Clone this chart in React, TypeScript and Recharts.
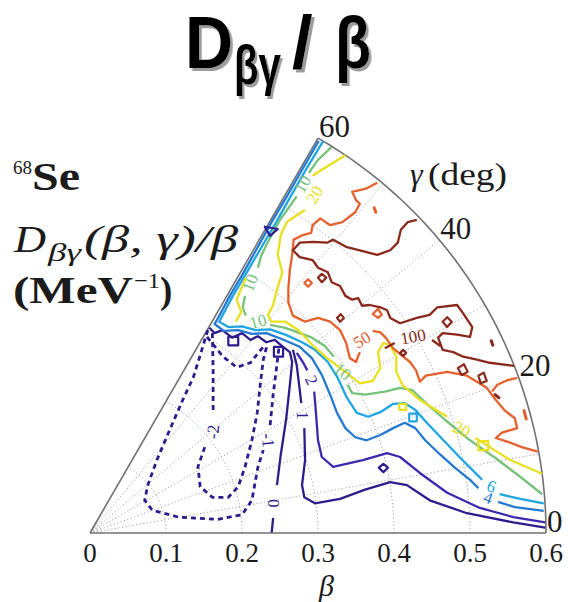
import React from "react";
import { ComposedChart, Line, Scatter, XAxis, YAxis } from "recharts";

type Pt = [number, number];
type Seg = Pt[];

// axes
const betaTicks = [0, 0.1, 0.2, 0.3, 0.4, 0.5, 0.6];
const gammaTicks = [0, 20, 40, 60];
const gridBetas = [0.1, 0.2, 0.3, 0.4, 0.5];
const gridGammas = [10, 20, 30, 40, 50];
const hubBetas = [0.005, 0.01, 0.015];

// contour pieces in the (β cosγ, β sinγ) plane; a piece ends where the level label sits
const levelNeg2: Seg[] = [
  [[0.161, 0.263], [0.162, 0.214], [0.162, 0.162]],
  [[0.151, 0.113], [0.142, 0.087], [0.145, 0.061], [0.161, 0.047], [0.182, 0.047], [0.195, 0.061], [0.204, 0.087], [0.213, 0.122], [0.22, 0.158], [0.224, 0.195], [0.228, 0.228], [0.233, 0.247]],
  [[0.154, 0.258], [0.175, 0.232], [0.193, 0.218], [0.211, 0.224], [0.228, 0.245]],
];

const levelNeg1: Seg[] = [
  [[0.155, 0.267], [0.145, 0.234], [0.136, 0.205], [0.122, 0.175], [0.105, 0.136], [0.088, 0.096], [0.076, 0.063], [0.072, 0.043], [0.082, 0.03], [0.116, 0.021], [0.168, 0.018], [0.2, 0.024], [0.213, 0.043], [0.221, 0.087], [0.228, 0.109]],
  [[0.237, 0.142], [0.241, 0.182], [0.245, 0.214], [0.249, 0.247]],
];

const level0: Seg[] = [
  [[0.157, 0.27], [0.164, 0.263], [0.174, 0.267], [0.187, 0.257], [0.2, 0.263], [0.211, 0.254], [0.221, 0.259], [0.232, 0.251], [0.243, 0.254], [0.254, 0.245], [0.263, 0.238], [0.266, 0.225], [0.263, 0.195], [0.258, 0.149], [0.251, 0.103], [0.246, 0.063]],
  [[0.241, 0.02], [0.239, 0]],
];

const level1: Seg[] = [
  [[0.267, 0.241], [0.272, 0.221], [0.276, 0.188], [0.278, 0.171]],
  [[0.282, 0.138], [0.283, 0.096], [0.279, 0.063], [0.282, 0.047], [0.296, 0.039], [0.329, 0.045], [0.362, 0.057], [0.395, 0.067], [0.417, 0.063], [0.447, 0.043], [0.496, 0.026], [0.557, 0.014], [0.599, 0.007]],
];

const level2: Seg[] = [
  [[0.272, 0.237], [0.28, 0.225], [0.286, 0.214]],
  [[0.295, 0.186], [0.297, 0.162], [0.3, 0.122], [0.305, 0.1], [0.32, 0.087], [0.359, 0.096], [0.391, 0.105], [0.408, 0.1], [0.434, 0.079], [0.47, 0.053], [0.513, 0.033], [0.557, 0.021], [0.599, 0.014]],
];

const level4: Seg[] = [
  [[0.301, 0.516], [0.279, 0.478], [0.259, 0.443], [0.239, 0.409], [0.22, 0.375], [0.2, 0.339], [0.184, 0.312], [0.174, 0.293], [0.164, 0.275], [0.176, 0.266], [0.195, 0.267], [0.213, 0.262], [0.232, 0.263], [0.253, 0.255], [0.276, 0.245], [0.292, 0.23], [0.305, 0.208], [0.316, 0.182], [0.325, 0.158], [0.336, 0.138], [0.349, 0.126], [0.364, 0.122], [0.382, 0.129], [0.399, 0.138], [0.414, 0.145], [0.428, 0.138], [0.441, 0.122], [0.461, 0.103], [0.48, 0.086], [0.5, 0.07], [0.511, 0.059]],
  [[0.537, 0.041], [0.559, 0.034], [0.597, 0.029]],
];

const level6: Seg[] = [
  [[0.307, 0.516], [0.284, 0.478], [0.264, 0.443], [0.245, 0.409], [0.225, 0.375], [0.204, 0.339], [0.188, 0.312], [0.178, 0.293], [0.17, 0.278], [0.182, 0.271], [0.2, 0.272], [0.218, 0.267], [0.237, 0.268], [0.257, 0.261], [0.279, 0.251], [0.296, 0.241], [0.313, 0.225], [0.326, 0.204], [0.338, 0.178], [0.351, 0.158], [0.366, 0.153], [0.382, 0.159], [0.399, 0.17], [0.414, 0.171], [0.428, 0.162], [0.445, 0.143], [0.467, 0.12], [0.487, 0.099], [0.504, 0.082], [0.516, 0.07]],
  [[0.539, 0.051], [0.566, 0.045], [0.597, 0.039]],
];

const level10: Seg[] = [
  [[0.318, 0.508], [0.3, 0.491], [0.288, 0.474]],
  [[0.272, 0.443], [0.262, 0.429], [0.25, 0.412], [0.239, 0.392], [0.232, 0.379], [0.225, 0.364], [0.221, 0.349]],
  [[0.204, 0.312], [0.201, 0.297], [0.205, 0.286]],
  [[0.237, 0.274], [0.257, 0.27], [0.276, 0.263], [0.292, 0.257], [0.309, 0.246], [0.321, 0.232]],
  [[0.339, 0.195], [0.345, 0.184], [0.362, 0.182], [0.388, 0.186], [0.408, 0.191], [0.424, 0.188], [0.441, 0.172], [0.467, 0.149], [0.5, 0.122], [0.533, 0.099], [0.566, 0.074], [0.595, 0.051]],
];

const level20: Seg[] = [
  [[0.336, 0.497], [0.305, 0.478], [0.293, 0.47]],
  [[0.283, 0.425], [0.272, 0.418], [0.259, 0.409], [0.251, 0.392], [0.247, 0.366], [0.253, 0.343], [0.246, 0.32], [0.241, 0.3], [0.234, 0.287], [0.239, 0.278], [0.257, 0.278], [0.274, 0.267], [0.293, 0.247], [0.312, 0.23], [0.336, 0.212], [0.355, 0.197], [0.372, 0.2], [0.382, 0.217], [0.379, 0.238], [0.386, 0.25], [0.395, 0.247], [0.403, 0.232], [0.403, 0.212], [0.411, 0.195], [0.434, 0.175], [0.47, 0.153]],
  [[0.507, 0.125], [0.526, 0.113], [0.553, 0.096], [0.595, 0.078]],
  [[0.205, 0.336], [0.193, 0.307], [0.199, 0.291], [0.192, 0.278]],
];

const level50: Seg[] = [
  [[0.378, 0.461], [0.363, 0.453], [0.345, 0.449], [0.35, 0.438], [0.355, 0.433], [0.349, 0.422], [0.332, 0.409], [0.316, 0.405], [0.303, 0.414], [0.293, 0.405], [0.291, 0.395], [0.28, 0.392], [0.268, 0.386], [0.266, 0.366], [0.263, 0.346], [0.261, 0.322], [0.261, 0.303], [0.267, 0.286], [0.283, 0.278], [0.3, 0.283], [0.316, 0.278], [0.329, 0.267], [0.337, 0.25], [0.342, 0.23], [0.35, 0.225], [0.355, 0.238]],
  [[0.372, 0.266], [0.382, 0.264], [0.389, 0.257], [0.399, 0.243], [0.411, 0.233], [0.421, 0.225], [0.429, 0.214], [0.434, 0.199], [0.442, 0.207], [0.47, 0.212], [0.496, 0.207], [0.522, 0.191], [0.534, 0.175], [0.546, 0.161], [0.559, 0.151], [0.562, 0.138], [0.542, 0.132], [0.534, 0.125], [0.55, 0.12], [0.568, 0.113], [0.589, 0.107]],
  [[0.562, 0.204], [0.549, 0.201], [0.536, 0.195], [0.529, 0.186]],
];

const level100: Seg[] = [
  [[0.43, 0.412], [0.418, 0.409], [0.409, 0.399], [0.405, 0.382], [0.395, 0.372], [0.378, 0.366], [0.355, 0.372], [0.338, 0.376], [0.32, 0.386], [0.312, 0.382], [0.293, 0.383], [0.276, 0.382], [0.267, 0.372], [0.276, 0.363], [0.293, 0.359], [0.3, 0.349], [0.313, 0.343], [0.318, 0.33], [0.329, 0.325], [0.336, 0.312], [0.345, 0.307], [0.353, 0.309], [0.358, 0.299], [0.368, 0.3], [0.382, 0.297], [0.391, 0.293], [0.395, 0.283], [0.408, 0.276], [0.43, 0.283], [0.447, 0.287], [0.457, 0.297], [0.483, 0.3], [0.491, 0.289], [0.503, 0.271], [0.5, 0.258], [0.483, 0.261], [0.464, 0.263], [0.458, 0.257], [0.464, 0.241], [0.478, 0.238], [0.491, 0.232], [0.509, 0.228], [0.526, 0.224], [0.558, 0.22]],
  [[0.388, 0.243], [0.401, 0.25]],
  [[0.45, 0.254], [0.461, 0.246]],
];

// small closed contours
const islands1: Seg[] = [
  [[0.38, 0.086], [0.386, 0.091], [0.392, 0.086], [0.386, 0.08]],
  [[0.23, 0.403], [0.247, 0.4], [0.237, 0.391]],
  [[0.182, 0.258], [0.195, 0.258], [0.195, 0.247], [0.182, 0.247]],
  [[0.242, 0.245], [0.254, 0.245], [0.254, 0.232], [0.242, 0.232]],
];
const islands6: Seg[] = [[[0.42, 0.157], [0.43, 0.157], [0.43, 0.147], [0.42, 0.147]]];
const islands20: Seg[] = [
  [[0.511, 0.121], [0.524, 0.121], [0.524, 0.109], [0.511, 0.109]],
  [[0.407, 0.17], [0.416, 0.17], [0.416, 0.162], [0.407, 0.162]],
];
const islands50: Seg[] = [
  [[0.282, 0.329], [0.287, 0.334], [0.292, 0.329], [0.287, 0.324]],
  [[0.372, 0.288], [0.379, 0.295], [0.384, 0.287], [0.379, 0.283]],
  [[0.571, 0.161], [0.574, 0.15]],
  [[0.374, 0.428], [0.376, 0.422]],
];
const islands100: Seg[] = [
  [[0.464, 0.278], [0.47, 0.284], [0.476, 0.278], [0.47, 0.271]],
  [[0.408, 0.237], [0.412, 0.241], [0.416, 0.237], [0.412, 0.233]],
  [[0.484, 0.217], [0.492, 0.222], [0.497, 0.212], [0.489, 0.208]],
  [[0.511, 0.207], [0.518, 0.211], [0.522, 0.2], [0.514, 0.197]],
  [[0.533, 0.182], [0.538, 0.178]],
  [[0.528, 0.253], [0.53, 0.247]],
  [[0.3, 0.336], [0.305, 0.341], [0.311, 0.336], [0.305, 0.33]],
  [[0.325, 0.283], [0.33, 0.288], [0.334, 0.283], [0.329, 0.278]],
];

const levelLabels = [
  { text: "-2", level: -2, at: [0.162, 0.133], angle: -85 },
  { text: "-1", level: -1, at: [0.234, 0.122], angle: 85 },
  { text: "0", level: 0, at: [0.242, 0.039], angle: 90 },
  { text: "1", level: 1, at: [0.279, 0.155], angle: 90 },
  { text: "2", level: 2, at: [0.291, 0.201], angle: 65 },
  { text: "4", level: 4, at: [0.524, 0.046], angle: 20 },
  { text: "6", level: 6, at: [0.528, 0.061], angle: 20 },
  { text: "10", level: 10, at: [0.28, 0.459], angle: -60 },
  { text: "10", level: 10, at: [0.211, 0.329], angle: -70 },
  { text: "10", level: 10, at: [0.221, 0.278], angle: -15 },
  { text: "10", level: 10, at: [0.332, 0.212], angle: 40 },
  { text: "20", level: 20, at: [0.296, 0.445], angle: -60 },
  { text: "20", level: 20, at: [0.489, 0.136], angle: 25 },
  { text: "50", level: 50, at: [0.358, 0.254], angle: -30 },
  { text: "100", level: 100, at: [0.425, 0.258], angle: -10 },
];

const levelColor: Record<number, string> = {
  [-2]: "#2e1c8e",
  [-1]: "#2e1c8e",
  0: "#2e1c8e",
  1: "#2e1c8e",
  2: "#3a2ab0",
  4: "#2479d2",
  6: "#1fa5e2",
  10: "#76c27a",
  20: "#e8df1e",
  50: "#e5602d",
  100: "#8a291b",
};

const contours = [
  { level: -2, segs: levelNeg2, dashed: true },
  { level: -1, segs: levelNeg1, dashed: true },
  { level: 0, segs: level0 },
  { level: 1, segs: level1 },
  { level: 2, segs: level2 },
  { level: 4, segs: level4 },
  { level: 6, segs: level6 },
  { level: 10, segs: level10 },
  { level: 20, segs: level20 },
  { level: 50, segs: level50 },
  { level: 100, segs: level100 },
];

const islands = [
  { level: 1, segs: islands1 },
  { level: 6, segs: islands6 },
  { level: 20, segs: islands20 },
  { level: 50, segs: islands50 },
  { level: 100, segs: islands100 },
];

const deg = Math.PI / 180;
const polar = (b: number, g: number) => ({ x: b * Math.cos(g * deg), y: b * Math.sin(g * deg) });
const arcRows = (b: number) => Array.from({ length: 61 }, (_, i) => polar(b, i));
const rows = (seg: Seg, closed = false) => {
  const r = seg.map(([x, y]) => ({ x, y }));
  return closed && seg.length > 2 ? [...r, r[0]] : r;
};

const SERIF = "'Liberation Serif', 'Times New Roman', serif";
const SANS = "'Liberation Sans', Arial, sans-serif";
const INK = "#1b1b1b";
const FRAME = "#707070";
const GRID = "#a3a3a3";

const labelRows = levelLabels.map((l) => ({ x: l.at[0], y: l.at[1], text: l.text, angle: l.angle, color: levelColor[l.level] }));
const gammaRows = gammaTicks.map((g) => ({ ...polar(0.6, g), text: String(g) }));

function LevelLabel(props: any) {
  const { cx, cy, payload } = props;
  if (cx == null || cy == null) return null;
  return (
    <text
      x={cx}
      y={cy}
      fill={payload.color}
      fontFamily={SERIF}
      fontSize={17}
      textAnchor="middle"
      dominantBaseline="central"
      transform={`rotate(${payload.angle} ${cx} ${cy})`}
    >
      {payload.text}
    </text>
  );
}

function GammaLabel(props: any) {
  const { cx, cy, payload } = props;
  if (cx == null || cy == null) return null;
  return (
    <text x={cx + 1} y={cy - 1} fill={INK} fontFamily={SERIF} fontSize={31}>
      {payload.text}
    </text>
  );
}

// condensed bold title glyphs with a flat grey drop shadow
function TitlePiece({ x, y, size, sx, children }: any) {
  return (
    <text
      transform={`translate(${x} ${y}) scale(${sx} 1)`}
      fill="#000"
      fontFamily={SANS}
      fontWeight={700}
      fontSize={size}
      filter="url(#titleShadow)"
    >
      {children}
    </text>
  );
}

const lineBase = { dataKey: "y", type: "linear" as const, dot: false, activeDot: false, isAnimationActive: false, legendType: "none" as const };

export default function App() {
  return (
    <div style={{ position: "absolute", left: 0, top: 0, width: 568, height: 602, background: "#fff" }}>
      <ComposedChart width={568} height={602} margin={{ top: 77, right: 22, bottom: 9, left: 90 }}>
        <XAxis
          type="number"
          dataKey="x"
          domain={[0, 0.6]}
          ticks={betaTicks}
          interval={0}
          height={60}
          tickLine={false}
          tickMargin={4}
          axisLine={{ stroke: FRAME, strokeWidth: 1.6 }}
          tick={{ fill: INK, fontSize: 27, fontFamily: SERIF }}
          tickFormatter={(v: number) => (v === 0 ? "0" : v.toFixed(1))}
        />
        <YAxis type="number" dataKey="y" domain={[0, 0.6]} hide width={0} />

        {/* polar grid */}
        {[...gridBetas, ...hubBetas].map((b) => (
          <Line key={`arc-${b}`} {...lineBase} data={arcRows(b)} stroke={GRID} strokeWidth={1} strokeDasharray="1.2 2.4" />
        ))}
        {gridGammas.map((g) => (
          <Line key={`ray-${g}`} {...lineBase} data={[polar(0, g), polar(0.6, g)]} stroke={GRID} strokeWidth={1} strokeDasharray="1.2 2.4" />
        ))}

        {/* wedge outline */}
        <Line {...lineBase} data={arcRows(0.6)} stroke={FRAME} strokeWidth={1.6} />
        <Line {...lineBase} data={[polar(0, 60), polar(0.6, 60)]} stroke={FRAME} strokeWidth={1.6} />

        {/* contour lines */}
        {contours.flatMap((c) =>
          c.segs.map((seg, i) => (
            <Line
              key={`c${c.level}-${i}`}
              {...lineBase}
              data={rows(seg)}
              stroke={levelColor[c.level]}
              strokeWidth={c.dashed ? 2.8 : 2.3}
              strokeDasharray={c.dashed ? "5 4" : undefined}
              strokeLinejoin="round"
            />
          ))
        )}
        {islands.flatMap((c) =>
          c.segs.map((seg, i) => (
            <Line
              key={`i${c.level}-${i}`}
              {...lineBase}
              data={rows(seg, true)}
              stroke={levelColor[c.level]}
              strokeWidth={seg.length > 2 ? 2.2 : 3}
              strokeLinejoin="round"
              strokeLinecap="round"
            />
          ))
        )}

        <Scatter data={labelRows} dataKey="y" shape={LevelLabel} isAnimationActive={false} legendType="none" />
        <Scatter data={gammaRows} dataKey="y" shape={GammaLabel} isAnimationActive={false} legendType="none" />
      </ComposedChart>

      <svg width={568} height={602} style={{ position: "absolute", left: 0, top: 0, pointerEvents: "none" }}>
        <defs>
          <filter id="titleShadow" x="-20%" y="-20%" width="140%" height="140%">
            <feDropShadow dx={3} dy={3} stdDeviation={0.4} floodColor="#9c9c9c" floodOpacity={1} />
          </filter>
        </defs>
        <TitlePiece x={185} y={68} size={74} sx={0.9}>D</TitlePiece>
        <TitlePiece x={234} y={84} size={56} sx={0.72}>βγ</TitlePiece>
        <TitlePiece x={292} y={68} size={74} sx={1}>/</TitlePiece>
        <TitlePiece x={335} y={68} size={72} sx={0.82}>β</TitlePiece>

        <text x={13} y={174} fill={INK} fontFamily={SERIF} fontSize={19}>68</text>
        <text x={32} y={190} fill={INK} fontFamily={SERIF} fontSize={40} fontWeight={700} textLength={48} lengthAdjust="spacingAndGlyphs">Se</text>

        <text x={14} y={252} fill={INK} fontFamily={SERIF} fontSize={38} fontStyle="italic" textLength={32} lengthAdjust="spacingAndGlyphs">D</text>
        <text x={48} y={261} fill={INK} fontFamily={SERIF} fontSize={26} fontStyle="italic" textLength={33} lengthAdjust="spacingAndGlyphs">βγ</text>
        <text x={84} y={252} fill={INK} fontFamily={SERIF} fontSize={38} fontStyle="italic" textLength={154} lengthAdjust="spacingAndGlyphs">(β, γ)/β</text>

        <text x={13} y={303} fill={INK} fontFamily={SERIF} fontSize={37} fontWeight={700} textLength={120} lengthAdjust="spacingAndGlyphs">(MeV</text>
        <text x={134} y={288} fill={INK} fontFamily={SERIF} fontSize={22} textLength={26} lengthAdjust="spacingAndGlyphs">−1</text>
        <text x={160} y={303} fill={INK} fontFamily={SERIF} fontSize={37} fontWeight={700}>)</text>

        <text x={410} y={185} fill={INK} fontFamily={SERIF} fontSize={32} fontStyle="italic">γ</text>
        <text x={428} y={185} fill={INK} fontFamily={SERIF} fontSize={32} textLength={79} lengthAdjust="spacingAndGlyphs">(deg)</text>

        <text x={319} y={596} fill={INK} fontFamily={SERIF} fontSize={30} fontStyle="italic">β</text>
      </svg>
    </div>
  );
}
